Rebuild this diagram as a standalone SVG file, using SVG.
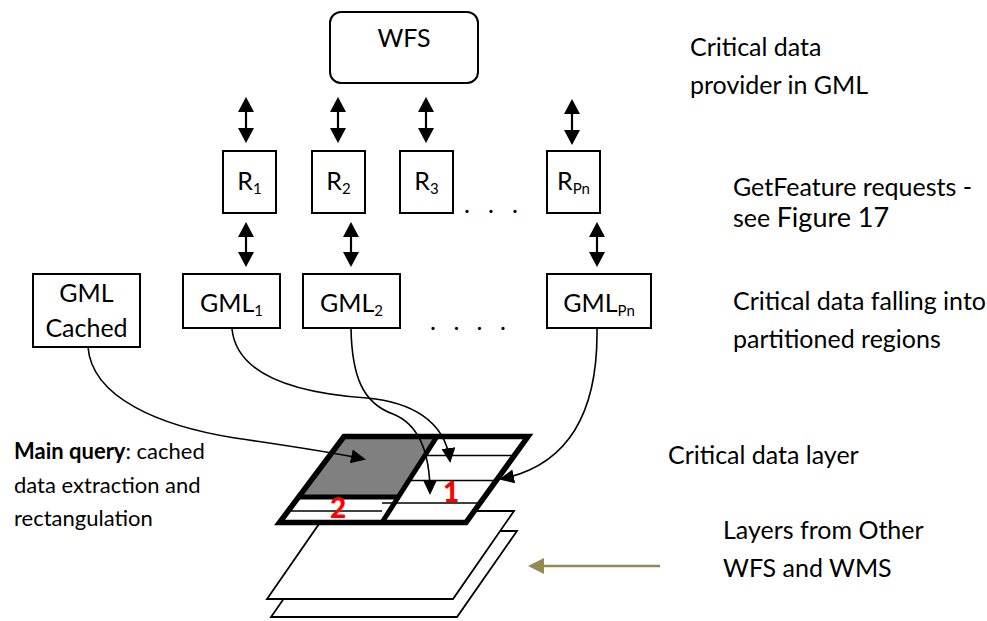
<svg xmlns="http://www.w3.org/2000/svg" width="987" height="621" viewBox="0 0 987 621">
<style>
  text { font-family: Lato, "Open Sans", "Liberation Sans", sans-serif; fill: #000; }
  .lbl { font-size: 25px; }
  .node { font-size: 25px; }
  .sub { font-size: 15px; }
  .box { fill: #fff; stroke: #000; stroke-width: 2; }
  .dbl { stroke: #000; stroke-width: 2.2; fill: none; }
  .curve { stroke: #000; stroke-width: 1.6; fill: none; }
  .thin { stroke: #000; stroke-width: 1.6; }
  .num { font-size: 28px; font-weight: 900; fill: #ff0000; }
</style>
<defs>
  <marker id="ah" viewBox="0 0 15 16" refX="10" refY="8" markerWidth="15" markerHeight="16" markerUnits="userSpaceOnUse" orient="auto-start-reverse">
    <path d="M0,0 L15,8 L0,16 z" fill="#000"/>
  </marker>
  <marker id="ac" viewBox="0 0 15 14" refX="13" refY="7" markerWidth="15" markerHeight="14" markerUnits="userSpaceOnUse" orient="auto">
    <path d="M0,0 L15,7 L0,14 z" fill="#000"/>
  </marker>
  <marker id="ao" viewBox="0 0 16 16" refX="12" refY="8" markerWidth="16" markerHeight="16" markerUnits="userSpaceOnUse" orient="auto">
    <path d="M0,0 L16,8 L0,16 z" fill="#948A54"/>
  </marker>
</defs>

<!-- Layers -->
<g id="layers">
  <polygon points="331,531 517,531 457,617 271,617" fill="#fff" stroke="#000" stroke-width="1.8"/>
  <polygon points="328,511 514,511 453,599 267,599" fill="#fff" stroke="#000" stroke-width="1.8"/>
  <g id="critical-layer">
    <polygon points="344,436.5 528,436.5 466,522.5 279.5,522.5" fill="#fff"/>
    <polygon points="344,436.5 437,436.5 399,497 297,497" fill="#808080"/>
    <line class="thin" x1="426" y1="455.5" x2="513" y2="455.5"/>
    <line class="thin" x1="409" y1="480.5" x2="496" y2="480.5"/>
    <line class="thin" x1="382" y1="503" x2="480" y2="503"/>
    <line class="thin" x1="288" y1="511" x2="382" y2="511"/>
    <line x1="297" y1="497" x2="400" y2="497" stroke="#000" stroke-width="5"/>
    <line x1="437" y1="436.5" x2="382" y2="522.5" stroke="#000" stroke-width="5"/>
    <polygon points="344,436.5 528,436.5 466,522.5 279.5,522.5" fill="none" stroke="#000" stroke-width="5.5" stroke-linejoin="miter"/>
    <text class="num" x="451" y="502" text-anchor="middle">1</text>
    <text class="num" x="338" y="518" text-anchor="middle">2</text>
  </g>
</g>

<!-- Nodes -->
<g id="wfs">
  <rect class="box" x="330" y="12" width="148" height="71" rx="11"/>
  <text class="node" x="404" y="47" text-anchor="middle">WFS</text>
</g>
<g id="r1">
  <rect class="box" x="223" y="151" width="53" height="62"/>
  <text class="node" x="249.5" y="190" text-anchor="middle">R<tspan class="sub" dy="4">1</tspan></text>
</g>
<g id="r2">
  <rect class="box" x="312" y="151" width="53" height="62"/>
  <text class="node" x="338.5" y="190" text-anchor="middle">R<tspan class="sub" dy="4">2</tspan></text>
</g>
<g id="r3">
  <rect class="box" x="400" y="151" width="53" height="62"/>
  <text class="node" x="426.5" y="190" text-anchor="middle">R<tspan class="sub" dy="4">3</tspan></text>
</g>
<g id="rpn">
  <rect class="box" x="547" y="151" width="53" height="62"/>
  <text class="node" x="573.5" y="190" text-anchor="middle">R<tspan class="sub" dy="4">Pn</tspan></text>
</g>
<g id="gml-cached">
  <rect class="box" x="33" y="274" width="107" height="73"/>
  <text class="node" x="86.5" y="302" text-anchor="middle">GML</text>
  <text class="node" x="86.5" y="337" text-anchor="middle">Cached</text>
</g>
<g id="gml1">
  <rect class="box" x="183" y="274" width="97" height="54"/>
  <text class="node" x="231.5" y="312" text-anchor="middle">GML<tspan class="sub" dy="4">1</tspan></text>
</g>
<g id="gml2">
  <rect class="box" x="303" y="274" width="97" height="54"/>
  <text class="node" x="351.5" y="312" text-anchor="middle">GML<tspan class="sub" dy="4">2</tspan></text>
</g>
<g id="gmlpn">
  <rect class="box" x="547" y="274" width="104" height="54"/>
  <text class="node" x="599" y="312" text-anchor="middle">GML<tspan class="sub" dy="4">Pn</tspan></text>
</g>

<!-- Dots -->
<text class="node" x="464 488 512" y="213">...</text>
<text class="node" x="430 453.5 476.5 500" y="330">....</text>

<!-- Connectors -->
<g id="connectors">
  <line class="dbl" x1="246" y1="102" x2="246" y2="138" marker-start="url(#ah)" marker-end="url(#ah)"/>
  <line class="dbl" x1="338" y1="102" x2="338" y2="138" marker-start="url(#ah)" marker-end="url(#ah)"/>
  <line class="dbl" x1="426" y1="102" x2="426" y2="138" marker-start="url(#ah)" marker-end="url(#ah)"/>
  <line class="dbl" x1="572" y1="104" x2="572" y2="140" marker-start="url(#ah)" marker-end="url(#ah)"/>
  <line class="dbl" x1="246" y1="227" x2="246" y2="262" marker-start="url(#ah)" marker-end="url(#ah)"/>
  <line class="dbl" x1="351" y1="227" x2="351" y2="262" marker-start="url(#ah)" marker-end="url(#ah)"/>
  <line class="dbl" x1="597" y1="227" x2="597" y2="262" marker-start="url(#ah)" marker-end="url(#ah)"/>
  <path class="curve" d="M88,347 C92,398 160,426 235,438 C290,446 330,452 364,459" marker-end="url(#ac)"/>
  <path class="curve" d="M232,329 C236,368 280,392 367,398 C410,402 445,420 450,461" marker-end="url(#ac)"/>
  <path class="curve" d="M351,329 C352,375 362,403 393,414 C418,424 430,450 430,493" marker-end="url(#ac)"/>
  <path class="curve" d="M597,329 C598,410 570,465 501,479" marker-end="url(#ac)"/>
  <line x1="660" y1="566" x2="532" y2="566" stroke="#948A54" stroke-width="2.5" marker-end="url(#ao)"/>
</g>

<!-- Labels -->
<g id="labels">
  <text class="lbl" x="690" y="56">Critical data</text>
  <text class="lbl" x="690" y="94">provider in GML</text>
  <text class="lbl" x="733" y="196">GetFeature requests -</text>
  <text class="lbl" x="733" y="227">see <tspan font-size="27">Figure 17</tspan></text>
  <text class="lbl" x="733" y="310">Critical data falling into</text>
  <text class="lbl" x="733" y="348">partitioned regions</text>
  <text class="lbl" x="668" y="464">Critical data layer</text>
  <text class="lbl" x="723" y="539">Layers from Other</text>
  <text class="lbl" x="723" y="577">WFS and WMS</text>
  <text font-size="22" x="14" y="459"><tspan font-weight="bold">Main query</tspan>: cached</text>
  <text font-size="22" x="14" y="493">data extraction and</text>
  <text font-size="22" x="14" y="526">rectangulation</text>
</g>
</svg>
